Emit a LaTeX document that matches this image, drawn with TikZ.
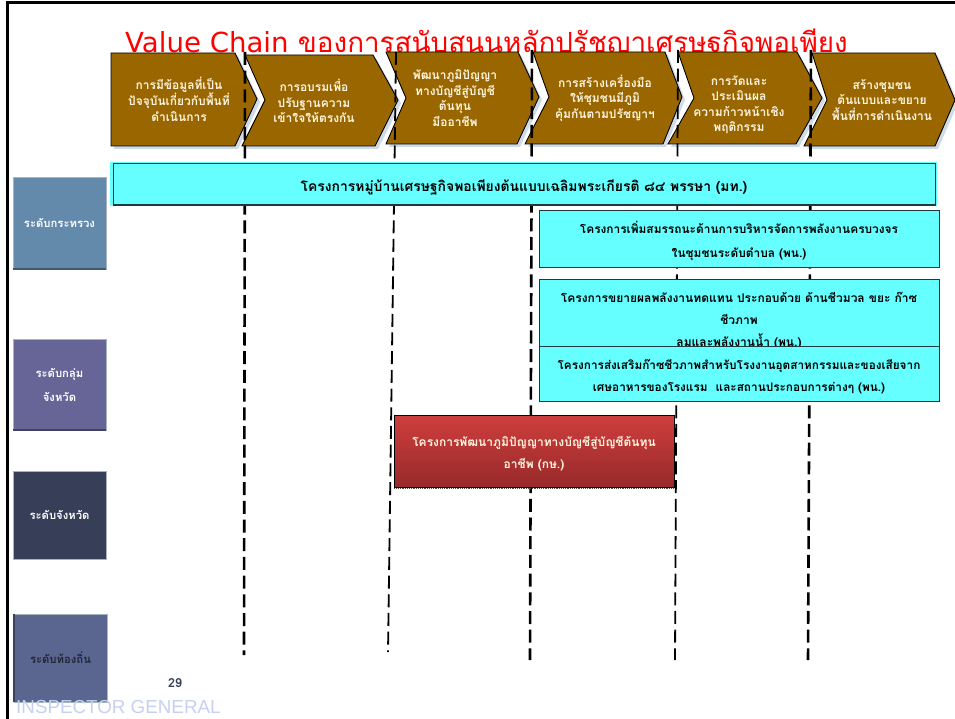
\documentclass[tikz,border=0pt]{standalone}
\usepackage{fontspec}
\setmainfont[Script=Thai]{Loma}
\newfontfamily\latinfont{Liberation Sans}
\newfontfamily\titlelatin{DejaVu Sans}
\tikzset{
  chev/.style={fill=chevbrown,draw=black,line width=0.9pt,line join=miter},
  chevshadow/.style={fill=shadowblue},
  chevtext/.style={text=chevtxt,align=center,inner sep=0pt,font=\fontsize{12}{15.5}\selectfont\bfseries},
  vline/.style={draw=black,line width=2.6pt,dash pattern=on 13pt off 5.7pt},
  vthin/.style={vline,line width=1.8pt},
  cybox/.style={draw=boxedge,fill=boxcyan,line width=1pt,inner sep=0pt},
  cytext/.style={inner sep=0pt,align=center,text=black,font=\fontsize{12}{23}\selectfont\bfseries},
  level/.style={draw=levelgrey,line width=0.8pt,inner sep=0pt,align=center,text=white,font=\fontsize{11.3}{24}\selectfont\bfseries,minimum width=93pt},
}
\definecolor{chevbrown}{HTML}{996600}
\definecolor{chevtxt}{HTML}{FFF6E0}
\definecolor{shadowblue}{HTML}{CFDCE8}
\definecolor{boxedge}{HTML}{1E3A40}
\definecolor{boxcyan}{HTML}{66FFFF}
\definecolor{levelgrey}{HTML}{A8B4C0}
\definecolor{redtop}{HTML}{CE3F3D}
\definecolor{redbot}{HTML}{98292A}
\definecolor{lvA}{HTML}{6389AB}
\definecolor{lvB}{HTML}{676498}
\definecolor{lvC}{HTML}{373E58}
\definecolor{lvD}{HTML}{5B6690}
\definecolor{insp}{HTML}{C6D0F0}
\newcommand\chevshape[1]{\fill[chevshadow,shift={(3,3)}] #1 -- cycle; \draw[chev] #1 -- cycle;}
\begin{document}
\begin{tikzpicture}[x=1pt,y=-1pt]
\useasboundingbox (0,0) rectangle (955,719);
\fill[white] (0,0) rectangle (955,719);
\clip (0,0) rectangle (955,719);
% frame
\draw[black,line width=3pt] (7,719) -- (7,3) -- (955,3);
% title, partly hidden by the chevrons
\node[anchor=base west,inner sep=0pt,text=red,font=\fontsize{27.8}{30}\selectfont] (title) at (125,53) {{\titlelatin\fontsize{27.6}{30}\selectfont Value Chain} ของการสนับสนุนหลักปรัชญาเศรษฐกิจพอเพียง};
% chevrons
\chevshape{(111,53) -- (235,53) -- (257,99) -- (235,146) -- (111,146)}
\chevshape{(245,55) -- (373,55) -- (398,100) -- (375,146) -- (242,146) -- (265,100)}
\chevshape{(386,52) -- (518,52) -- (539,97) -- (517,144) -- (386,144) -- (406,98)}
\chevshape{(533,52) -- (665,52) -- (682,97) -- (663,144) -- (525,144) -- (549,97)}
\chevshape{(678,52) -- (797,52) -- (822,98) -- (796,144) -- (668,144) -- (694,98)}
\chevshape{(812,53) -- (935,53) -- (955,100) -- (935,146) -- (804,146) -- (827,100)}
\node[chevtext] (c1) at (179,99) {การมีข้อมูลที่เป็น\\ปัจจุบันเกี่ยวกับพื้นที่\\ดำเนินการ};
\node[chevtext] (c2) at (314,101) {การอบรมเพื่อ\\ปรับฐานความ\\เข้าใจให้ตรงกัน};
\node[chevtext] (c3) at (455,98) {พัฒนาภูมิปัญญา\\ทางบัญชีสู่บัญชี\\ต้นทุน\\มีออาชีพ};
\node[chevtext] (c4) at (605,98) {การสร้างเครื่องมือ\\ให้ชุมชนมีภูมิ\\คุ้มกันตามปรัชญาฯ};
\node[chevtext] (c5) at (739,105) {การวัดและ\\ประเมินผล\\ความก้าวหน้าเชิง\\พฤติกรรม};
\node[chevtext] (c6) at (882,100) {สร้างชุมชน\\ต้นแบบและขยาย\\พื้นที่การดำเนินงาน};
% column dividers
\coordinate (a1) at (245,52); \coordinate (b1) at (244,655);
\coordinate (a2) at (396,52); \coordinate (b2) at (388,652);
\coordinate (a3) at (532,50); \coordinate (b3) at (530,660);
\coordinate (a4) at (678,50); \coordinate (b4) at (675,660);
\coordinate (a5) at (811,50); \coordinate (b5) at (808,660);
\draw[vline] (a1) -- (b1);
\draw[vthin] (a2) -- (b2);
\draw[vline] (a3) -- (b3);
\draw[vthin] (a4) -- (b4);
\draw[vline] (a5) -- (b5);
% level squares
\node[level,fill=lvA,minimum height=92pt] (l1) at (59.5,223) {ระดับกระทรวง};
\node[level,fill=lvB,minimum height=91pt] (l2) at (59.5,384.5) {ระดับกลุ่ม\\จังหวัด};
\node[level,fill=lvC,minimum height=88pt] (l3) at (59.5,515) {ระดับจังหวัด};
\node[level,fill=lvD,minimum height=88pt,text=lvC!60!black] (l4) at (60.5,658) {ระดับท้องถิ่น};
\draw[lvA!65!black,line width=2pt] (l1.south west) -- (l1.south east);
\draw[lvB!65!black,line width=2pt] (l2.south west) -- (l2.south east);
\draw[lvD!65!black,line width=2pt] (l4.north west) -- (l4.south west);
% project boxes
\fill[boxcyan] (110,162) rectangle (937,206);
\node[cybox,minimum width=822pt,minimum height=41pt] (p1) at (524,184) {};
\node[cytext,font=\fontsize{13.9}{23}\selectfont\bfseries] (p1t) at ([yshift=-3pt]p1.center) {โครงการหมู่บ้านเศรษฐกิจพอเพียงต้นแบบเฉลิมพระเกียรติ ๘๔ พรรษา (มท.)};
\draw[boxedge,line width=1.6pt] (p1.south west) -- (p1.south east);
\node[cybox,minimum width=400pt,minimum height=56pt] (p2) at (739,239) {};
\node[cytext,font=\fontsize{11.9}{24}\selectfont\bfseries] (p2t) at ([yshift=-1.5pt]p2.center) {โครงการเพิ่มสมรรถนะด้านการบริหารจัดการพลังงานครบวงจร\\ในชุมชนระดับตำบล (พน.)};
\node[cybox,minimum width=400pt,minimum height=78pt] (p3) at (739,318) {};
\node[cytext,font=\fontsize{12}{22}\selectfont\bfseries] (p3t) at ([yshift=-3pt]p3.center) {โครงการขยายผลพลังงานทดแทน ประกอบด้วย ด้านชีวมวล ขยะ ก๊าซ\\ชีวภาพ\\ลมและพลังงานน้ำ (พน.)};
\node[cybox,minimum width=400pt,minimum height=55pt] (p4) at (739,373.5) {};
\node[cytext,font=\fontsize{11.8}{22}\selectfont\bfseries] (p4t) at ([yshift=-3.5pt]p4.center) {โครงการส่งเสริมก๊าซชีวภาพสำหรับโรงงานอุตสาหกรรมและของเสียจาก\\เศษอาหารของโรงแรม\ \ และสถานประกอบการต่างๆ (พน.)};
\node[draw=black,line width=1pt,top color=redtop,bottom color=redbot,minimum width=280pt,minimum height=72pt,inner sep=0pt] (p5) at (534,451) {};
\node[cytext,text=chevtxt,font=\fontsize{12}{21.5}\selectfont\bfseries] (p5t) at ([yshift=-2.5pt]p5.center) {โครงการพัฒนาภูมิปัญญาทางบัญชีสู่บัญชีต้นทุน\\อาชีพ (กษ.)};
\draw[black!70,line width=1.2pt,densely dotted] ([yshift=-1pt]p5.south west) -- ([yshift=-1pt]p5.south east);
% footer
\node[inner sep=0pt,text=lvC,font=\fontsize{12.5}{14}\selectfont\bfseries] (pg) at (175,683) {29};
\node[anchor=base west,inner sep=0pt,text=insp,font=\latinfont\fontsize{18.8}{22}\selectfont] (ig) at (16,713) {INSPECTOR GENERAL};
\end{tikzpicture}
\end{document}
